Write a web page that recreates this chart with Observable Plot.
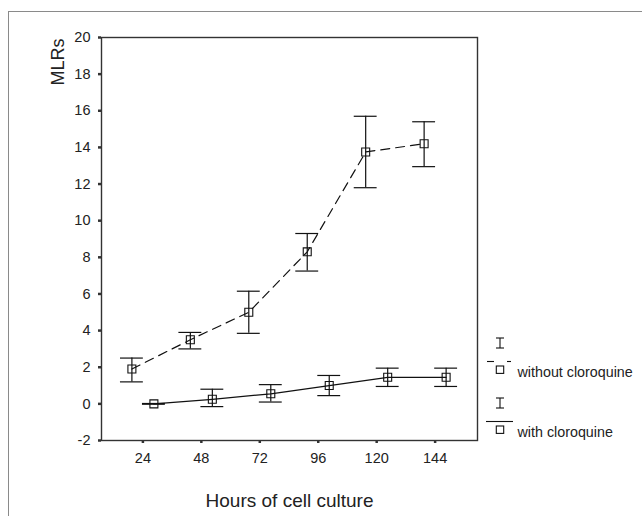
<!DOCTYPE html>
<html>
<head>
<meta charset="utf-8">
<script src="https://cdn.jsdelivr.net/npm/d3@7"></script>
<script src="https://cdn.jsdelivr.net/npm/@observablehq/plot@0.6"></script>
<style>
  html, body { margin: 0; padding: 0; background: #fff; }
  body { font-family: "Liberation Sans", Arial, sans-serif; }
  #wrap { position: relative; width: 642px; height: 516px; overflow: hidden; }
  #outer { position: absolute; left: 8px; top: 11px; right: -10px; bottom: -10px;
           border-top: 1px solid #8a8a8a; border-left: 1px solid #8a8a8a; pointer-events: none; }
  #legend { position: absolute; left: 0; top: 0; }
</style>
</head>
<body>
<div id="wrap">
  <div id="chart"></div>
  <div id="outer"></div>
  <svg id="legend" width="642" height="516"></svg>
</div>
<script>
// ---- data ----
const hours = [24, 48, 72, 96, 120, 144];
const seriesNames = ["without cloroquine", "with cloroquine"];
const withoutMean = [1.9, 3.5, 5.0, 8.3, 13.75, 14.2];
const withoutLow  = [1.2, 3.0, 3.85, 7.25, 11.8, 12.95];
const withoutHigh = [2.5, 3.9, 6.15, 9.3, 15.7, 15.4];
const withMean = [0.0, 0.25, 0.55, 1.0, 1.45, 1.45];
const withLow  = [-0.02, -0.15, 0.1, 0.45, 0.95, 0.95];
const withHigh = [0.02, 0.8, 1.05, 1.55, 1.95, 1.95];
const yTicks = [-2, 0, 2, 4, 6, 8, 10, 12, 14, 16, 18, 20];
const xLabel = "Hours of cell culture";
const yLabel = "MLRs";

const without = hours.map((h, i) => ({hour: h, mean: withoutMean[i], low: withoutLow[i], high: withoutHigh[i]}));
const withC = hours.map((h, i) => ({hour: h, mean: withMean[i], low: withLow[i], high: withHigh[i]}));

const ink = "#111";
const cap = 4.7; // half cap width in hours

function seriesMarks(data, dx, dash) {
  return [
    Plot.line(data, {x: "hour", y: "mean", dx, stroke: ink, strokeWidth: 1.2, strokeDasharray: dash}),
    Plot.ruleX(data, {x: "hour", y1: "low", y2: "high", dx, stroke: ink, strokeWidth: 1.2}),
    Plot.ruleY(data, {y: "high", x1: d => d.hour - cap, x2: d => d.hour + cap, dx, stroke: ink, strokeWidth: 1.2}),
    Plot.ruleY(data, {y: "low", x1: d => d.hour - cap, x2: d => d.hour + cap, dx, stroke: ink, strokeWidth: 1.2}),
    Plot.dot(data, {x: "hour", y: "mean", dx, symbol: "square", r: 4.5, stroke: ink, strokeWidth: 1.1, fill: "none"})
  ];
}

const chart = Plot.plot({
  width: 642,
  height: 516,
  marginLeft: 101,
  marginRight: 165,
  marginTop: 37,
  marginBottom: 76,
  style: {fontFamily: "'Liberation Sans', Arial, sans-serif", fontSize: "14.5px", color: "#222", background: "transparent"},
  x: {domain: [7, 161.4]},
  y: {domain: [-2, 20]},
  marks: [
    Plot.axisY({ticks: yTicks, tickFormat: d => String(d), tickSize: 3, tickPadding: 8, fontSize: 14.5, strokeWidth: 2.5, stroke: "#333", label: null}),
    Plot.axisX({ticks: hours, tickFormat: d => String(d), tickSize: 3, tickPadding: 9, fontSize: 14.5, strokeWidth: 2.5, stroke: "#333", label: null}),
    Plot.frame({stroke: "#333", strokeWidth: 1.4}),
    ...seriesMarks(without, -11, "9,6"),
    ...seriesMarks(withC, 11, null),
    Plot.text([xLabel], {frameAnchor: "bottom", dy: 66, fontSize: 19, fill: "#222"}),
    Plot.text([yLabel], {frameAnchor: "top-left", rotate: -90, textAnchor: "end", dx: -50, dy: 1, fontSize: 18, fill: "#222"})
  ]
});
document.getElementById("chart").appendChild(chart);

// ---- legend (right side) ----
const lg = d3.select("#legend");
const items = [
  {name: seriesNames[0], dash: "6,4", top: 338},
  {name: seriesNames[1], dash: null, top: 398}
];
items.forEach(it => {
  const g = lg.append("g").attr("stroke", ink).attr("stroke-width", 1.1).attr("fill", "none");
  const cx = 500;
  // error bar glyph
  g.append("line").attr("x1", cx).attr("x2", cx).attr("y1", it.top).attr("y2", it.top + 10);
  g.append("line").attr("x1", cx - 4).attr("x2", cx + 4).attr("y1", it.top).attr("y2", it.top);
  g.append("line").attr("x1", cx - 4).attr("x2", cx + 4).attr("y1", it.top + 10).attr("y2", it.top + 10);
  // line glyph
  const ly = it.top + 23.5;
  if (it.dash) {
    g.append("line").attr("x1", 487).attr("x2", 494).attr("y1", ly).attr("y2", ly);
    g.append("line").attr("x1", 507).attr("x2", 511).attr("y1", ly).attr("y2", ly);
  } else {
    g.append("line").attr("x1", 486).attr("x2", 513).attr("y1", ly).attr("y2", ly);
  }
  // square glyph
  g.append("rect").attr("x", cx - 3.7).attr("y", ly + 4.5).attr("width", 7.4).attr("height", 7.4);
  lg.append("text").attr("x", 517.5).attr("y", ly + 15).attr("font-size", 14.3).attr("fill", "#222")
    .attr("font-family", "'Liberation Sans', Arial, sans-serif").text(it.name);
});
</script>
</body>
</html>
